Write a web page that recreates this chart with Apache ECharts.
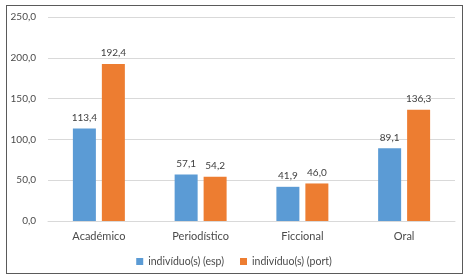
<!DOCTYPE html>
<html>
<head>
<meta charset="utf-8">
<script src="https://cdn.jsdelivr.net/npm/echarts@6/dist/echarts.min.js"></script>
<style>
  html, body { margin: 0; padding: 0; background: #fff; }
  #chart { width: 468px; height: 277px; }
  /* moldura cinza em volta do gráfico */
  #frame {
    position: absolute; left: 6px; top: 5px;
    width: 455px; height: 267px;
    border: 1px solid #5a5a5a;
    pointer-events: none;
  }
</style>
</head>
<body>
<div id="chart"></div>
<div id="frame"></div>
<script>
const categories = ['Académico', 'Periodístico', 'Ficcional', 'Oral']
const espValues = [113.4, 57.1, 41.9, 89.1]
const portValues = [192.4, 54.2, 46.0, 136.3]
const seriesNames = ['indivíduo(s) (esp)', 'indivíduo(s) (port)']

const fmt = v => v.toFixed(1).replace('.', ',')
const font = 'Lato, "Liberation Sans", sans-serif'

const chart = echarts.init(document.getElementById('chart'))
chart.setOption({
  animation: false,
  color: ['#5b9bd5', '#ed7d31'],
  textStyle: { fontFamily: font },
  grid: { left: 48, right: 13, top: 17, bottom: 56 },
  legend: {
    top: 251,
    left: 'center',
    itemWidth: 7,
    itemHeight: 7,
    itemGap: 16,
    icon: 'rect',
    textStyle: { color: '#4a4a4a', fontSize: 10.5, fontFamily: font }
  },
  xAxis: {
    type: 'category',
    data: categories,
    axisLine: { lineStyle: { color: '#d9d9d9' } },
    axisTick: { show: false },
    axisLabel: { color: '#4a4a4a', fontSize: 11, margin: 10 }
  },
  yAxis: {
    type: 'value',
    min: 0,
    max: 250,
    interval: 50,
    axisLabel: { color: '#4a4a4a', fontSize: 10, margin: 12, formatter: v => fmt(v) },
    splitLine: { lineStyle: { color: '#d9d9d9' } }
  },
  series: [
    { name: seriesNames[0], data: espValues },
    { name: seriesNames[1], data: portValues }
  ].map(s => ({
    ...s,
    type: 'bar',
    barWidth: 23,
    barGap: '26%',
    label: {
      show: true,
      position: 'top',
      distance: 6,
      color: '#404040',
      fontSize: 10,
      formatter: p => fmt(p.value)
    }
  }))
})
</script>
</body>
</html>
